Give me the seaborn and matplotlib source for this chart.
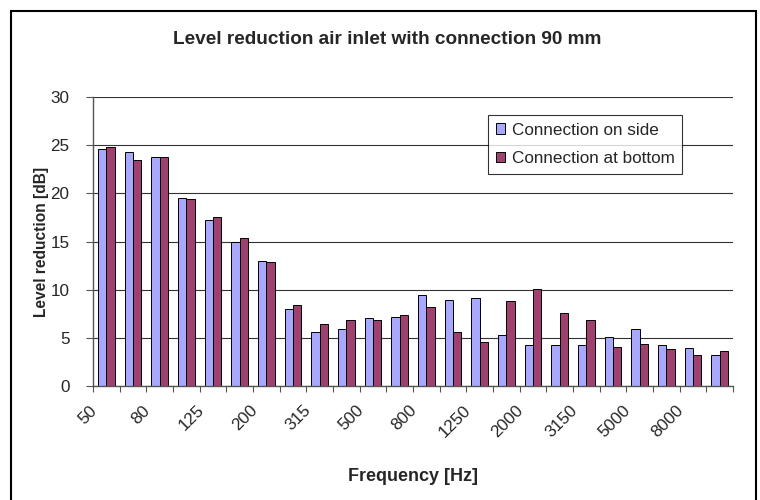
import numpy as np
import pandas as pd
import seaborn as sns
import matplotlib.pyplot as plt
import matplotlib.transforms as mtransforms
from matplotlib.patches import Rectangle

freqs = ['50', '63', '80', '100', '125', '160', '200', '250', '315', '400', '500', '630',
         '800', '1000', '1250', '1600', '2000', '2500', '3150', '4000', '5000', '6300', '8000', '10000']
side = [24.6, 24.3, 23.8, 19.5, 17.2, 15.0, 13.0, 7.95, 5.6, 5.95, 7.1, 7.2,
        9.4, 8.9, 9.1, 5.25, 4.25, 4.25, 4.25, 5.1, 5.9, 4.25, 3.95, 3.25]
bottom = [24.85, 23.5, 23.8, 19.4, 17.5, 15.4, 12.9, 8.4, 6.4, 6.9, 6.9, 7.4,
          8.25, 5.6, 4.6, 8.8, 10.05, 7.6, 6.9, 4.1, 4.4, 3.8, 3.25, 3.6]
series = ['Connection on side', 'Connection at bottom']

df = pd.DataFrame({
    'Frequency': freqs * 2,
    'Level': side + bottom,
    'Series': [series[0]] * len(freqs) + [series[1]] * len(freqs),
})

sns.set_theme(style='white')
plt.rcParams['font.family'] = ['Liberation Sans', 'DejaVu Sans']

fig = plt.figure(figsize=(7.6, 5.0), dpi=100)
ax = fig.add_axes([93 / 760, 1 - 386 / 500, 640 / 760, 289 / 500])

sns.barplot(data=df, x='Frequency', y='Level', hue='Series', order=freqs,
            palette=['#A8A8FF', '#A0406F'], width=0.62, edgecolor='black',
            linewidth=0.7, saturation=1, ax=ax)

ax.set_ylim(0, 30)
ax.set_xlim(-0.5, len(freqs) - 0.5)
ax.set_yticks(np.arange(0, 31, 5))
ax.yaxis.grid(True, color='#333333', linewidth=0.8)
ax.set_axisbelow(True)
for s in ['top', 'right']:
    ax.spines[s].set_visible(False)
for s in ['left', 'bottom']:
    ax.spines[s].set_color('#555555')
    ax.spines[s].set_linewidth(1.0)

# labels on every other band, tick marks on band borders
ax.set_xticks(np.arange(0, len(freqs), 2))
ax.set_xticklabels(freqs[::2], rotation=45, ha='right', va='top', rotation_mode='anchor')
ax.set_xticks(np.arange(-0.5, len(freqs), 1), minor=True)
ax.tick_params(axis='x', which='major', length=0, pad=12, labelsize=12.3)
ax.tick_params(axis='x', which='minor', length=4, width=0.8, color='#555555', direction='out', bottom=True)
ax.tick_params(axis='y', length=5, width=0.8, color='#555555', direction='out', left=True, pad=12, labelsize=12.3)
shift = mtransforms.ScaledTranslation(-17 / 100, 0, fig.dpi_scale_trans)
for lbl in ax.get_xticklabels():
    lbl.set_transform(lbl.get_transform() + shift)

ax.set_xlabel('Frequency [Hz]', fontsize=13, fontweight='bold', labelpad=20)
ax.set_ylabel('Level reduction [dB]', fontsize=11.2, fontweight='bold', labelpad=1)
fig.text(387 / 760, 1 - 40 / 500, 'Level reduction air inlet with connection 90 mm',
         ha='center', va='center', fontsize=13.7, fontweight='bold')

leg = ax.legend(loc='upper left', bbox_to_anchor=(488 / 760, 1 - 115 / 500),
                bbox_transform=fig.transFigure, fontsize=12.3, frameon=True, fancybox=False,
                edgecolor='black', handlelength=0.55, handleheight=0.55, handletextpad=0.4,
                borderpad=0.45, labelspacing=0.8, borderaxespad=0)
leg.get_frame().set_linewidth(0.8)

fig.patches.append(Rectangle((11 / 760, -0.02), 745 / 760, 1.02 - 11 / 500,
                             transform=fig.transFigure, fill=False, lw=1.5, ec='black'))

fig.savefig('out.png', dpi=100)
